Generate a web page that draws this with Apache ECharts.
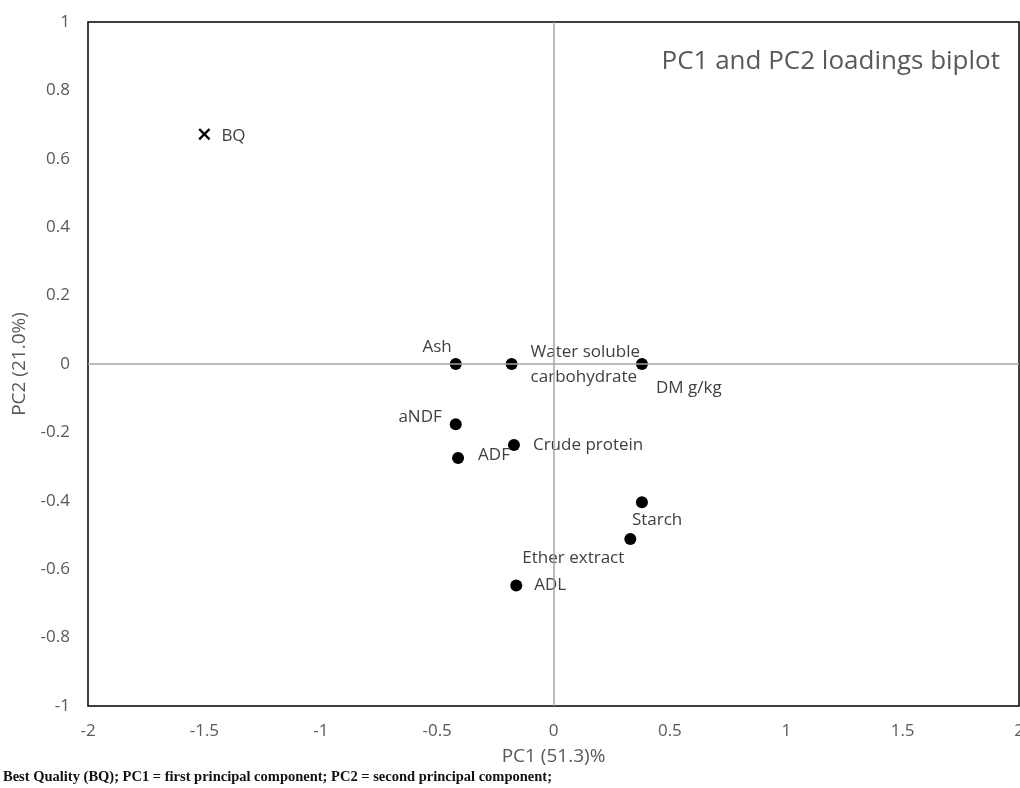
<!DOCTYPE html>
<html>
<head>
<meta charset="utf-8">
<script src="https://cdn.jsdelivr.net/npm/echarts@6/dist/echarts.min.js"></script>
<style>
  html, body { margin: 0; padding: 0; background: #fff; }
  #main { width: 1020px; height: 788px; }
</style>
</head>
<body>
<div id="main"></div>
<script>
// loadings
var names = ['Ash', 'Water soluble\ncarbohydrate', 'DM g/kg', 'aNDF', 'Crude protein', 'ADF', 'Starch', 'Ether extract', 'ADL'];
var pc1 = [-0.42, -0.18, 0.38, -0.42, -0.17, -0.41, 0.38, 0.33, -0.16];
var pc2 = [0, 0, 0, -0.176, -0.237, -0.275, -0.404, -0.512, -0.648];
var bqPoint = [-1.5, 0.672];

// label placement (text anchor relative to dot centre)
var labelPlace = {
  'Ash': { align: 'right', offset: [-4, -17] },
  'Water soluble\ncarbohydrate': { align: 'left', offset: [19, 1] },
  'DM g/kg': { align: 'left', offset: [14, 24] },
  'aNDF': { align: 'right', offset: [-14, -7] },
  'Crude protein': { align: 'left', offset: [19, 0] },
  'ADF': { align: 'left', offset: [20, -3] },
  'Starch': { align: 'left', offset: [-10, 18] },
  'Ether extract': { align: 'right', offset: [-6, 19] },
  'ADL': { align: 'left', offset: [18, 0] }
};

var font = 'Open Sans';
var grey = '#595959';

var pts = names.map(function (n, i) {
  var p = labelPlace[n];
  return {
    name: n,
    value: [pc1[i], pc2[i]],
    label: { align: p.align, offset: p.offset }
  };
});

var chart = echarts.init(document.getElementById('main'));
var option = {
  animation: false,
  backgroundColor: '#fff',
  title: {
    text: 'PC1 and PC2 loadings biplot',
    right: 15,
    top: 44,
    textStyle: { fontFamily: font, fontWeight: 'normal', fontSize: 26, color: grey }
  },
  grid: {
    left: 88, top: 22, right: 1, bottom: 82,
    outerBoundsMode: 'none',
    show: true, borderColor: '#000', borderWidth: 1.5
  },
  xAxis: {
    type: 'value', min: -2, max: 2, interval: 0.5,
    name: 'PC1 (51.3)%', nameLocation: 'middle', nameGap: 41,
    nameTextStyle: { fontFamily: font, fontSize: 19, color: grey },
    axisLine: { show: false }, axisTick: { show: false }, splitLine: { show: false },
    axisLabel: { fontFamily: font, fontSize: 17, color: grey, margin: 17, showMaxLabel: true }
  },
  yAxis: {
    type: 'value', min: -1, max: 1, interval: 0.2,
    name: 'PC2 (21.0%)', nameLocation: 'middle', nameGap: 59,
    nameTextStyle: { fontFamily: font, fontSize: 19, color: grey },
    axisLine: { show: false }, axisTick: { show: false }, splitLine: { show: false },
    axisLabel: {
      fontFamily: font, fontSize: 17, color: grey, margin: 18,
      formatter: function (v) { return String(Math.round(v * 10) / 10); }
    }
  },
  series: [
    {
      type: 'scatter',
      symbol: 'circle',
      symbolSize: 12,
      itemStyle: { color: '#000', opacity: 1 },
      label: {
        show: true, position: 'inside', verticalAlign: 'middle',
        fontFamily: font, fontSize: 17, color: '#404040', lineHeight: 25,
        formatter: '{b}'
      },
      data: pts,
      markLine: {
        silent: true, symbol: 'none', label: { show: false },
        lineStyle: { color: '#a6a6a6', width: 1.5, type: 'solid' },
        data: [{ xAxis: 0 }, { yAxis: 0 }]
      },
      z: 3
    },
    {
      type: 'scatter',
      symbol: 'path://M0,1.4 L1.4,0 L5,3.6 L8.6,0 L10,1.4 L6.4,5 L10,8.6 L8.6,10 L5,6.4 L1.4,10 L0,8.6 L3.6,5Z',
      symbolSize: 12,
      itemStyle: { color: '#000', opacity: 1 },
      label: {
        show: true, position: 'inside', align: 'left', verticalAlign: 'middle', offset: [17, 2],
        fontFamily: font, fontSize: 17, color: '#404040', formatter: '{b}'
      },
      data: [{ name: 'BQ', value: bqPoint }],
      z: 3
    }
  ],
  graphic: [
    {
      type: 'text', left: 3, top: 770,
      style: {
        text: 'Best Quality (BQ); PC1 = first principal component; PC2 = second principal component;',
        font: 'bold 14.5px "Liberation Serif"', fill: '#111'
      }
    }
  ]
};
chart.setOption(option);
</script>
</body>
</html>
